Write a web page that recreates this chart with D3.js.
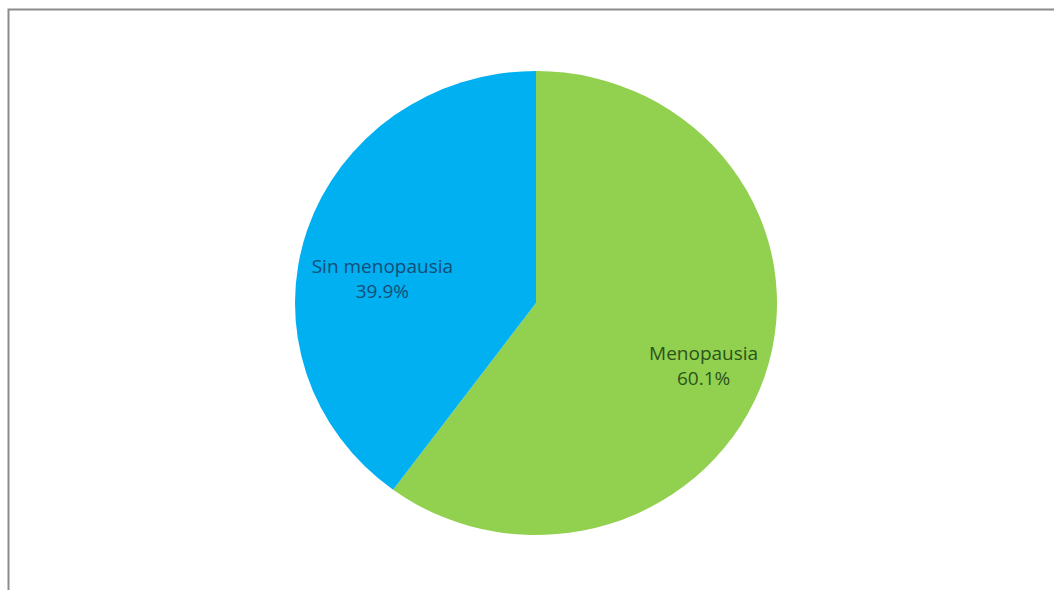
<!DOCTYPE html>
<html>
<head>
<meta charset="utf-8">
<script src="https://d3js.org/d3.v7.min.js"></script>
<style>
  html, body { margin: 0; padding: 0; background: #fff; }
  svg { display: block; }
  .lbl { font-family: "Open Sans", "Liberation Sans", sans-serif; font-size: 19px; }
</style>
</head>
<body>
<svg id="chart"></svg>
<script>
// chart data
const categories = ["Menopausia", "Sin menopausia"];
const shares = [60.1, 39.9];
const colors = ["#92D050", "#00B0F0"];
const labelColors = ["#2b5419", "#164d78"];

const width = 1054, height = 590;
const cx = 536, cy = 303;
const rx = 241, ry = 232;

const svg = d3.select("#chart").attr("width", width).attr("height", height);

// outer frame (only top/left edges show in the crop)
svg.append("rect")
    .attr("x", 8.5).attr("y", 9.5)
    .attr("width", width + 20).attr("height", height + 20)
    .attr("fill", "none")
    .attr("stroke", "#8c8c8c")
    .attr("stroke-width", 2);

const pie = d3.pie().sort(null).value(d => d)(shares);
const arc = d3.arc().innerRadius(0).outerRadius(rx);

// pie is a bit squashed vertically
const g = svg.append("g")
    .attr("transform", `translate(${cx},${cy}) scale(1,${ry / rx})`);

g.selectAll("path")
    .data(pie)
    .join("path")
    .attr("d", arc)
    .attr("fill", (d, i) => colors[i]);

// labels
const labelArc = d3.arc().innerRadius(168).outerRadius(168);
const nudge = [[8, 11], [6, 24]];

const labels = svg.selectAll("text.lbl")
    .data(pie)
    .join("text")
    .attr("class", "lbl")
    .attr("text-anchor", "middle")
    .attr("fill", (d, i) => labelColors[i])
    .attr("transform", (d, i) => {
        const c = labelArc.centroid(d);
        return `translate(${cx + c[0] + nudge[i][0]},${cy + c[1] * ry / rx + nudge[i][1]})`;
    });

labels.append("tspan")
    .attr("x", 0).attr("y", -4)
    .text((d, i) => categories[i]);
labels.append("tspan")
    .attr("x", 0).attr("y", 21)
    .text((d, i) => d3.format(".1f")(shares[i]) + "%");
</script>
</body>
</html>
